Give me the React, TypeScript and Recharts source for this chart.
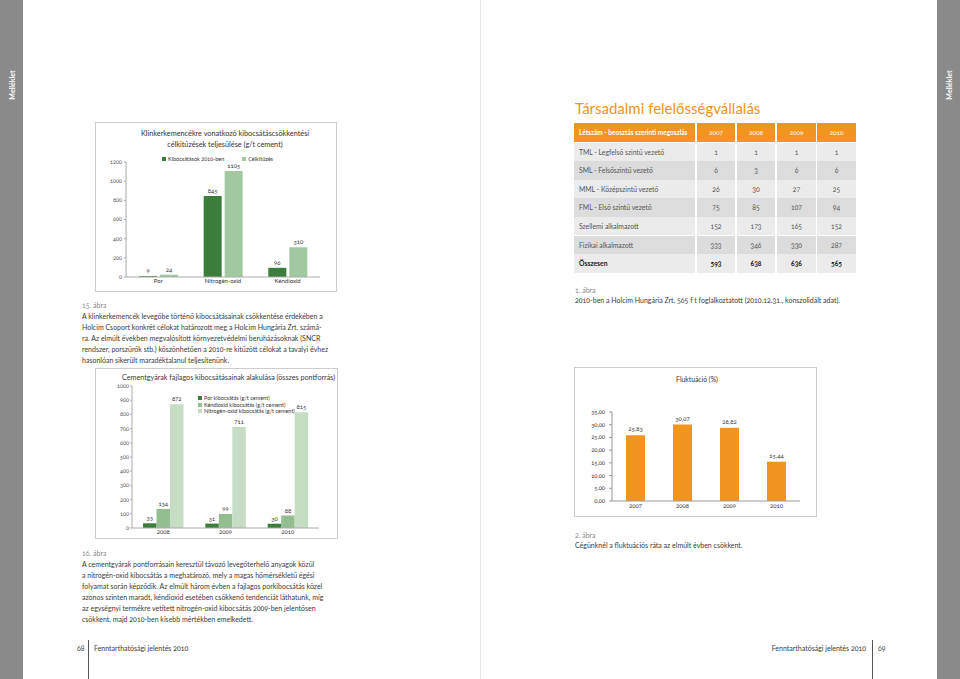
import { Bar, BarChart, LabelList, Legend, XAxis, YAxis } from 'recharts';

// 15. ábra – klinkerkemencék
const klinkerCategories = ['Por', 'Nitrogén-oxid', 'Kéndioxid'];
const kibocsatas2010 = [9, 845, 96];
const celkituzes = [24, 1105, 310];
const klinkerTicks = [0, 200, 400, 600, 800, 1000, 1200];
const klinkerSeries = ['Kibocsátások 2010-ben', 'Célkitűzés'];

// 16. ábra – cementgyárak fajlagos kibocsátása
const cementYears = ['2008', '2009', '2010'];
const porKibocsatas = [33, 31, 30];
const kendioxidKibocsatas = [134, 99, 88];
const nitrogenKibocsatas = [872, 711, 815];
const cementTicks = [0, 100, 200, 300, 400, 500, 600, 700, 800, 900, 1000];
const cementSeries = [
  'Por kibocsátás (g/t cement)',
  'Kéndioxid kibocsátás (g/t cement)',
  'Nitrogén-oxid kibocsátás (g/t cement)',
];

// 2. ábra – fluktuáció
const flukYears = ['2007', '2008', '2009', '2010'];
const flukValues = [25.83, 30.07, 28.82, 15.44];
const flukTicks = [0, 5, 10, 15, 20, 25, 30, 35];

// 1. ábra – létszám táblázat
const tableHeader = 'Létszám - beosztás szerinti megoszlás';
const tableYears = ['2007', '2008', '2009', '2010'];
const tableRowLabels = [
  'TML - Legfelső szintű vezető',
  'SML - Felsőszintű vezető',
  'MML - Középszintű vezető',
  'FML - Első szintű vezető',
  'Szellemi alkalmazott',
  'Fizikai alkalmazott',
];
const tableRows = [
  [1, 1, 1, 1],
  [6, 3, 6, 6],
  [26, 30, 27, 25],
  [75, 85, 107, 94],
  [152, 173, 165, 152],
  [333, 346, 330, 287],
];
const tableTotalLabel = 'Összesen';
const tableTotals = [593, 638, 636, 565];

const text15 = [
  'A klinkerkemencék levegőbe történő kibocsátásainak csökkentése érdekében a',
  'Holcim Csoport konkrét célokat határozott meg a Holcim Hungária Zrt. számá-',
  'ra. Az elmúlt években megvalósított környezetvédelmi beruházásoknak (SNCR',
  'rendszer, porszűrők stb.) köszönhetően a 2010-re kitűzött célokat a tavalyi évhez',
  'hasonlóan sikerült maradéktalanul teljesítenünk.',
];
const text16 = [
  'A cementgyárak pontforrásain keresztül távozó levegőterhelő anyagok közül',
  'a nitrogén-oxid kibocsátás a meghatározó, mely a magas hőmérsékletű égési',
  'folyamat során képződik. Az elmúlt három évben a fajlagos porkibocsátás közel',
  'azonos szinten maradt, kéndioxid esetében csökkenő tendenciát láthatunk, míg',
  'az egységnyi termékre vetített nitrogén-oxid kibocsátás 2009-ben jelentősen',
  'csökkent, majd 2010-ben kisebb mértékben emelkedett.',
];

const klinkerData = klinkerCategories.map((name, i) => ({
  name,
  kibocsatas: kibocsatas2010[i],
  cel: celkituzes[i],
}));
const cementData = cementYears.map((year, i) => ({
  year,
  por: porKibocsatas[i],
  ken: kendioxidKibocsatas[i],
  nox: nitrogenKibocsatas[i],
}));
const flukData = flukYears.map((year, i) => ({ year, value: flukValues[i] }));

const FONT = 'Lato, "Open Sans", sans-serif';
const DARK = '#3b7d3b';
const MID = '#93bf90';
const LIGHT = '#a2c8a0';
const PALE = '#c5ddc3';
const ORANGE = '#f39420';
const BOX = '#cccccc';

const comma = (v: number) => v.toFixed(2).replace('.', ',');

const SquareLegend = ({ payload, vertical, order }: any) => {
  const items = [...(payload || [])].sort(
    (a: any, b: any) => order.indexOf(a.value) - order.indexOf(b.value)
  );
  return (
    <div
      style={{
        display: 'flex',
        flexDirection: vertical ? 'column' : 'row',
        gap: vertical ? 0 : 18,
        fontFamily: FONT,
        fontSize: 5.5,
        color: '#333',
      }}
    >
      {items.map((p: any) => (
        <div key={p.value} style={{ display: 'flex', alignItems: 'center', height: 6.4, whiteSpace: 'nowrap' }}>
          <span style={{ width: 4, height: 4, background: p.color, marginRight: 2, display: 'inline-block' }} />
          {p.value}
        </div>
      ))}
    </div>
  );
};

const Abs = ({ x, y, w, h, style, children }: any) => (
  <div style={{ position: 'absolute', left: x, top: y, width: w, height: h, ...style }}>{children}</div>
);

const Line = ({ x, y, text, size = 7, color = '#3a3a3a', weight = 400 }: any) => (
  <div
    style={{
      position: 'absolute',
      left: x,
      top: y,
      fontSize: size,
      lineHeight: '11px',
      color,
      fontWeight: weight,
      whiteSpace: 'nowrap',
    }}
  >
    {text}
  </div>
);

const sideLabel = (left: number) => (
  <div
    style={{
      position: 'absolute',
      left,
      top: 85,
      transform: 'translate(-50%, -50%) rotate(-90deg)',
      color: '#fff',
      fontSize: 7,
      fontWeight: 700,
      whiteSpace: 'nowrap',
    }}
  >
    Melléklet
  </div>
);

export default function App() {
  const colX = [574, 697, 737, 777, 817];
  const colW = [121, 38, 38, 39, 39];
  const rowH = 18.6;
  const bodyTop = 142.5;

  return (
    <div
      style={{
        position: 'absolute',
        left: 0,
        top: 0,
        width: 960,
        height: 679,
        background: '#fff',
        fontFamily: FONT,
        fontVariantNumeric: 'oldstyle-nums',
        overflow: 'hidden',
      }}
    >
      {/* side strips and spine */}
      <Abs x={0} y={0} w={23} h={679} style={{ background: '#8a8a8a' }} />
      <Abs x={937} y={0} w={23} h={679} style={{ background: '#8a8a8a' }} />
      <Abs x={480} y={0} w={1} h={679} style={{ background: '#e6e6e6' }} />
      {sideLabel(11.5)}
      {sideLabel(948.5)}

      {/* ---------- 15. ábra ---------- */}
      <Abs x={95} y={122} w={242} h={170} style={{ border: `1px solid ${BOX}`, boxSizing: 'border-box' }} />
      <div
        style={{
          position: 'absolute',
          left: 125,
          top: 128,
          width: 200,
          textAlign: 'center',
          fontSize: 7.3,
          lineHeight: '11px',
          color: '#333',
        }}
      >
        Klinkerkemencékre vonatkozó kibocsátáscsökkentési
        <br />
        célkitűzések teljesülése (g/t cement)
      </div>
      <div style={{ position: 'absolute', left: 95, top: 122 }}>
        <BarChart
          width={242}
          height={170}
          data={klinkerData}
          margin={{ top: 40, right: 17, bottom: 0, left: 0 }}
          barSize={18}
          barGap={3}
        >
          <XAxis
            dataKey="name"
            interval={0}
            tickLine={false}
            tickSize={0}
            tickMargin={2}
            height={15}
            axisLine={{ stroke: '#aaa' }}
            tick={{ fontSize: 6, fill: '#333' }}
          />
          <YAxis
            domain={[0, 1200]}
            ticks={klinkerTicks}
            width={31}
            tickSize={2}
            tickMargin={2}
            axisLine={{ stroke: '#aaa' }}
            tickLine={{ stroke: '#aaa' }}
            tick={{ fontSize: 5.5, fill: '#555' }}
          />
          <Legend
            layout="horizontal"
            verticalAlign="middle"
            align="center"
            wrapperStyle={{ left: 67, top: 34, width: 'auto' }}
            content={(props: any) => <SquareLegend {...props} order={klinkerSeries} />}
          />
          <Bar dataKey="kibocsatas" name={klinkerSeries[0]} fill={DARK} isAnimationActive={false}>
            <LabelList dataKey="kibocsatas" position="top" offset={3} style={{ fontSize: 6, fill: '#333' }} />
          </Bar>
          <Bar dataKey="cel" name={klinkerSeries[1]} fill={LIGHT} isAnimationActive={false}>
            <LabelList dataKey="cel" position="top" offset={3} style={{ fontSize: 6, fill: '#333' }} />
          </Bar>
        </BarChart>
      </div>

      <Line x={82} y={300} text="15. ábra" color="#888" />
      {text15.map((t, i) => (
        <Line key={i} x={82} y={311 + i * 11} text={t} />
      ))}

      {/* ---------- 16. ábra ---------- */}
      <Abs x={95} y={368} w={243} h={171} style={{ border: `1px solid ${BOX}`, boxSizing: 'border-box' }} />
      <Line x={122} y={371.5} text="Cementgyárak fajlagos kibocsátásainak alakulása (összes pontforrás)" size={7.2} />
      <div style={{ position: 'absolute', left: 95, top: 368 }}>
        <BarChart
          width={243}
          height={171}
          data={cementData}
          margin={{ top: 18, right: 19, bottom: 0, left: 0 }}
          barSize={13.5}
          barGap={0}
        >
          <XAxis
            dataKey="year"
            interval={0}
            tickLine={false}
            tickSize={0}
            tickMargin={2}
            height={11}
            axisLine={{ stroke: '#aaa' }}
            tick={{ fontSize: 6, fill: '#333' }}
          />
          <YAxis
            domain={[0, 1000]}
            ticks={cementTicks}
            width={37}
            tickSize={2}
            tickMargin={1}
            axisLine={{ stroke: '#aaa' }}
            tickLine={{ stroke: '#aaa' }}
            tick={{ fontSize: 5.5, fill: '#555' }}
          />
          <Legend
            layout="horizontal"
            verticalAlign="middle"
            align="center"
            wrapperStyle={{ left: 103, top: 27, width: 'auto' }}
            content={(props: any) => <SquareLegend {...props} vertical order={cementSeries} />}
          />
          <Bar dataKey="por" name={cementSeries[0]} fill={DARK} isAnimationActive={false}>
            <LabelList dataKey="por" position="top" offset={3} style={{ fontSize: 6, fill: '#333' }} />
          </Bar>
          <Bar dataKey="ken" name={cementSeries[1]} fill={MID} isAnimationActive={false}>
            <LabelList dataKey="ken" position="top" offset={3} style={{ fontSize: 6, fill: '#333' }} />
          </Bar>
          <Bar dataKey="nox" name={cementSeries[2]} fill={PALE} isAnimationActive={false}>
            <LabelList dataKey="nox" position="top" offset={3} style={{ fontSize: 6, fill: '#333' }} />
          </Bar>
        </BarChart>
      </div>

      <Line x={82} y={547.5} text="16. ábra" color="#888" />
      {text16.map((t, i) => (
        <Line key={i} x={82} y={558.5 + i * 11} text={t} />
      ))}

      {/* ---------- Társadalmi felelősségvállalás ---------- */}
      <div
        style={{
          position: 'absolute',
          left: 575,
          top: 97,
          fontSize: 15,
          lineHeight: '22px',
          color: ORANGE,
          whiteSpace: 'nowrap',
        }}
      >
        Társadalmi felelősségvállalás
      </div>

      {/* table header */}
      {[tableHeader, ...tableYears].map((h, c) => (
        <Abs
          key={'h' + c}
          x={colX[c]}
          y={123}
          w={colW[c]}
          h={19}
          style={{
            background: ORANGE,
            color: '#fff',
            fontSize: 6.5,
            fontWeight: c === 0 ? 700 : 400,
            lineHeight: '19px',
            textAlign: c === 0 ? 'left' : 'center',
            paddingLeft: c === 0 ? 5 : 0,
            boxSizing: 'border-box',
            whiteSpace: 'nowrap',
          }}
        >
          {h}
        </Abs>
      ))}
      {[...tableRowLabels, tableTotalLabel].map((label, r) => {
        const values = r < tableRows.length ? tableRows[r] : tableTotals;
        const bold = r === tableRows.length;
        const bg = r % 2 === 0 ? '#ebebeb' : '#dcdcdc';
        return [label, ...values].map((v, c) => (
          <Abs
            key={r + '-' + c}
            x={colX[c]}
            y={bodyTop + r * rowH}
            w={colW[c]}
            h={rowH}
            style={{
              background: bg,
              color: bold ? '#222' : '#555',
              fontSize: 6.8,
              fontWeight: bold ? 700 : 400,
              lineHeight: rowH + 'px',
              textAlign: c === 0 ? 'left' : 'center',
              paddingLeft: c === 0 ? 5 : 0,
              boxSizing: 'border-box',
              whiteSpace: 'nowrap',
            }}
          >
            {v}
          </Abs>
        ));
      })}

      <Line x={575} y={284.5} text="1. ábra" color="#888" />
      <Line
        x={575}
        y={294.5}
        text="2010-ben a Holcim Hungária Zrt. 565 f t foglalkoztatott (2010.12.31., konszolidált adat)."
      />

      {/* ---------- 2. ábra ---------- */}
      <Abs x={574} y={367} w={243} h={150} style={{ border: `1px solid ${BOX}`, boxSizing: 'border-box' }} />
      <div
        style={{
          position: 'absolute',
          left: 574,
          top: 373.5,
          width: 246,
          textAlign: 'center',
          fontSize: 6.8,
          lineHeight: '11px',
          color: '#333',
        }}
      >
        Fluktuáció (%)
      </div>
      <div style={{ position: 'absolute', left: 574, top: 367 }}>
        <BarChart
          width={243}
          height={150}
          data={flukData}
          margin={{ top: 45, right: 17, bottom: 0, left: 0 }}
          barSize={19}
        >
          <XAxis
            dataKey="year"
            interval={0}
            tickLine={false}
            tickSize={0}
            tickMargin={3}
            height={16}
            axisLine={{ stroke: '#999' }}
            tick={{ fontSize: 6, fill: '#333' }}
          />
          <YAxis
            domain={[0, 35]}
            ticks={flukTicks}
            width={38}
            tickSize={3}
            tickMargin={4}
            tickFormatter={comma}
            axisLine={{ stroke: '#999' }}
            tickLine={{ stroke: '#999' }}
            tick={{ fontSize: 5.8, fill: '#333' }}
          />
          <Bar dataKey="value" fill={ORANGE} isAnimationActive={false}>
            <LabelList
              dataKey="value"
              position="top"
              offset={4}
              formatter={(v: any) => comma(Number(v))}
              style={{ fontSize: 6, fill: '#333' }}
            />
          </Bar>
        </BarChart>
      </div>

      <Line x={575} y={529.5} text="2. ábra" color="#888" />
      <Line x={575} y={539.5} text="Cégünknél a fluktuációs ráta az elmúlt évben csökkent." />

      {/* ---------- footer ---------- */}
      <Line x={77} y={642.5} text="68" />
      <Abs x={88} y={640} w={1} h={39} style={{ background: '#555' }} />
      <Line x={94} y={642.5} text="Fenntarthatósági jelentés 2010" />
      <div
        style={{
          position: 'absolute',
          right: 960 - 866,
          top: 642.5,
          fontSize: 7,
          lineHeight: '11px',
          color: '#3a3a3a',
          whiteSpace: 'nowrap',
        }}
      >
        Fenntarthatósági jelentés 2010
      </div>
      <Abs x={872} y={640} w={1} h={39} style={{ background: '#555' }} />
      <Line x={878} y={642.5} text="69" />
    </div>
  );
}
